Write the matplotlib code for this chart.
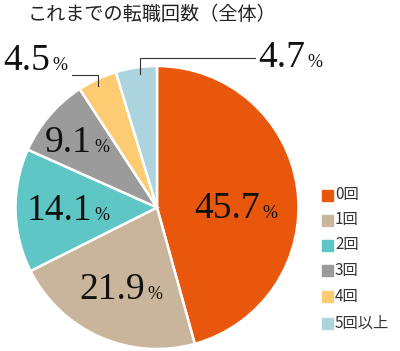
import matplotlib.pyplot as plt
from matplotlib.patches import Rectangle

# --- Data ---
title = "これまでの転職回数（全体）"
categories = ["0回", "1回", "2回", "3回", "4回", "5回以上"]
shares = [45.7, 21.9, 14.1, 9.1, 4.5, 4.7]
colors = ["#E8570C", "#C9B59C", "#5FC6C6", "#9B9B9B", "#FCCB72", "#ABD4DF"]

W, H = 400, 351


def px(x, y):
    # pixel coords (top-left origin) -> figure fraction
    return x / W, 1 - y / H


fig = plt.figure(figsize=(4.0, 3.51), dpi=100)

# --- Pie ---
cx, cy, r = 157, 207.5, 141.5
ax = fig.add_axes([(cx - r) / W, 1 - (cy + r) / H, 2 * r / W, 2 * r / H])
ax.pie(shares, colors=colors, startangle=90, counterclock=False,
       wedgeprops=dict(edgecolor="white", linewidth=1.8))
ax.set_aspect("equal")
ax.set_xlim(-1, 1)
ax.set_ylim(-1, 1)

# --- Value labels (number + small %) ---
label_pos = [(260, 218), (145, 299), (92, 220), (92, 152), (50, 70), (305, 67)]
for val, (x, y) in zip(shares, label_pos):
    fig.text(*px(x, y), f"{val:.1f}", ha="right", va="baseline",
             fontsize=27, family="Liberation Serif", color="#111111")
    fig.text(*px(x + 2, y), "%", ha="left", va="baseline",
             fontsize=13, family="Liberation Serif", color="#111111")

# leader lines for the small slices
fig.add_artist(plt.Line2D([72 / W, 98 / W, 98 / W],
                          [1 - 75 / H, 1 - 75 / H, 1 - 86 / H],
                          color="#333333", lw=0.8))
fig.add_artist(plt.Line2D([140 / W, 140 / W, 255 / W],
                          [1 - 74 / H, 1 - 58 / H, 1 - 58 / H],
                          color="#333333", lw=0.8))

# --- Title ---
fig.text(*px(152, 14), title, ha="center", va="center", fontsize=13.8,
         family=["Noto Sans CJK JP", "DejaVu Sans"], color="#222222")

# --- Legend ---
leg_y = [195, 220, 245, 270, 296, 323]
for cat, col, y in zip(categories, colors, leg_y):
    x0, y0 = px(322, y + 5.5)
    fig.add_artist(Rectangle((x0, y0), 11 / W, 11 / H, color=col,
                             transform=fig.transFigure))
    fig.text(*px(335, y), cat, ha="left", va="center", fontsize=11,
             family=["Noto Sans CJK JP", "DejaVu Sans"], color="#333333")

plt.savefig("out.png", dpi=100)
